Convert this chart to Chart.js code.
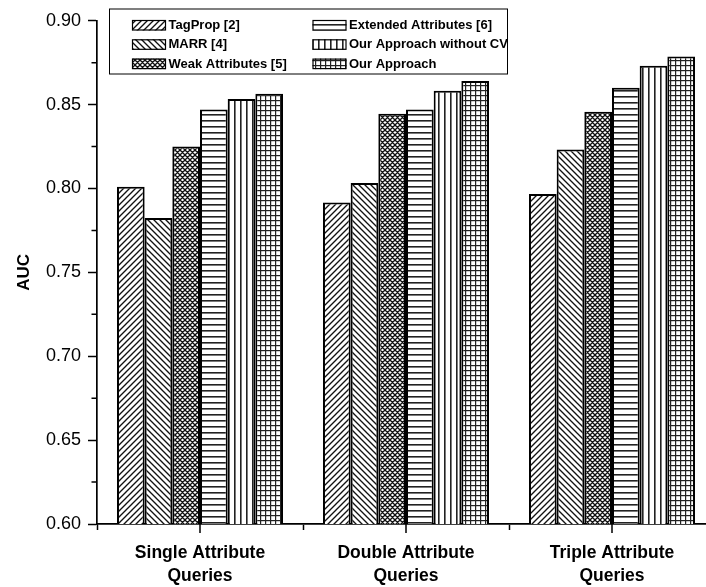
<!DOCTYPE html>
<html>
<head>
<meta charset="utf-8">
<script src="https://cdn.jsdelivr.net/npm/chart.js@4"></script>
<style>
html,body{margin:0;padding:0;background:#fff;overflow:hidden;width:706px;height:587px;}
canvas{display:block;}
</style>
</head>
<body>
<canvas id="c" width="730" height="587"></canvas>
<script>
// ---- data ----
const categories = [["Single Attribute","Queries"],["Double Attribute","Queries"],["Triple Attribute","Queries"]];
const seriesNames = ["TagProp [2]","MARR [4]","Weak Attributes [5]","Extended Attributes [6]","Our Approach without CV","Our Approach"];
const tagProp   = [0.801, 0.7917, 0.7967];
const marr      = [0.7824, 0.8033, 0.8232];
const weakAttr  = [0.825, 0.8446, 0.8458];
const extAttr   = [0.847, 0.847, 0.860];
const ourNoCV   = [0.8534, 0.8582, 0.8732];
const ourApp    = [0.8564, 0.864, 0.8786];
const yTicks = [0.60,0.65,0.70,0.75,0.80,0.85,0.90];
const yMinorTicks = [0.625,0.675,0.725,0.775,0.825,0.875];

// ---- patterns ----
function makePattern(kind){
  const s = kind==='cross' || kind==='grid' ? 5 : 6;
  const c = document.createElement('canvas');
  c.width = s; c.height = s;
  const g = c.getContext('2d');
  g.fillStyle='#fff'; g.fillRect(0,0,s,s);
  g.strokeStyle='#111'; g.lineWidth=1.35;
  g.beginPath();
  if(kind==='fwd'||kind==='cross'){
    g.moveTo(-1,s+1); g.lineTo(s+1,-1);
    g.moveTo(-1,1); g.lineTo(1,-1);
    g.moveTo(s-1,s+1); g.lineTo(s+1,s-1);
  }
  if(kind==='back'||kind==='cross'){
    g.moveTo(-1,-1); g.lineTo(s+1,s+1);
    g.moveTo(s-1,-1); g.lineTo(s+1,1);
    g.moveTo(-1,s-1); g.lineTo(1,s+1);
  }
  g.stroke();
  if(kind==='horiz'||kind==='grid'){
    g.fillStyle='#222'; g.fillRect(0,0,s,kind==='grid'?1.2:1.6);
  }
  if(kind==='vert'||kind==='grid'){
    g.fillStyle='#222'; g.fillRect(0,0,kind==='grid'?1.2:1.6,s);
  }
  return g.createPattern(c,'repeat');
}
const kinds = ['fwd','back','cross','horiz','vert','grid'];
const patterns = kinds.map(k=>makePattern(k));
const seriesValues = [tagProp, marr, weakAttr, extAttr, ourNoCV, ourApp];

const FONT = "'Liberation Sans', Arial, sans-serif";

const extraAxisPlugin = {
  id:'extraAxis',
  afterDraw(chart){
    const ctx = chart.ctx;
    const y = chart.scales.y, x = chart.scales.x;
    ctx.save();
    ctx.strokeStyle='#000'; ctx.lineWidth=1.5;
    ctx.beginPath();
    yMinorTicks.forEach(v=>{
      const py = y.getPixelForValue(v);
      ctx.moveTo(x.left-5.5, py); ctx.lineTo(x.left, py);
    });
    categories.forEach((c,i)=>{
      const px = x.getPixelForValue(i);
      ctx.moveTo(px, y.bottom); ctx.lineTo(px, y.bottom+9);
    });
    ctx.stroke();
    // legend
    const bx=109, by=8.5, bw=398, bh=65;
    ctx.lineWidth=1; ctx.strokeStyle='#000';
    ctx.fillStyle='#fff';
    ctx.fillRect(bx,by,bw,bh);
    ctx.strokeRect(bx+0.5,by+0.5,bw,bh);
    ctx.font = "bold 13px " + FONT;
    ctx.textBaseline='middle'; ctx.textAlign='left';
    chart.data.datasets.forEach((ds,i)=>{
      const col = Math.floor(i/3), row = i%3;
      const sx = col===0?132:312.5;
      const sy = 20 + row*19.3;
      ctx.fillStyle = ds.backgroundColor;
      ctx.fillRect(sx,sy,34,10.5);
      ctx.strokeStyle='#000'; ctx.lineWidth=1.2;
      ctx.strokeRect(sx+0.5,sy+0.5,33,9.5);
      ctx.fillStyle='#000';
      ctx.fillText(ds.label, sx+36.5, sy+5.5);
    });
    ctx.restore();
  }
};

new Chart(document.getElementById('c'), {
  type:'bar',
  data:{
    labels: categories,
    datasets: seriesNames.map((n,i)=>({
      label:n,
      data: seriesValues[i],
      backgroundColor: patterns[i],
      borderColor:'#000',
      borderWidth:2,
      categoryPercentage:0.806,
      barPercentage:1.0
    }))
  },
  options:{
    responsive:false,
    devicePixelRatio:1,
    animation:false,
    layout:{padding:{top:20.7,right:15,bottom:0,left:0}},
    plugins:{legend:{display:false},tooltip:{enabled:false}},
    scales:{
      x:{
        type:'category',
        offset:true,
        grid:{display:true,offset:true,drawOnChartArea:false,drawTicks:true,tickLength:6,tickColor:'#000',tickWidth:1.5},
        border:{display:true,color:'#000',width:1.7},
        ticks:{color:'#000',font:{family:FONT,size:17.5,weight:'bold',lineHeight:1.35},padding:11,maxRotation:0,autoSkip:false},
        afterFit(s){s.height=63;}
      },
      y:{
        min:0.6,max:0.9,
        afterBuildTicks(s){s.ticks = yTicks.map(v=>({value:v}));},
        grid:{display:true,drawOnChartArea:false,drawTicks:true,tickLength:9,tickColor:'#000',tickWidth:1.5},
        border:{display:true,color:'#000',width:1.7},
        ticks:{color:'#000',font:{family:FONT,size:18},padding:7,callback:(v)=>Number(v).toFixed(2)},
        title:{display:true,text:'AUC',color:'#000',font:{family:FONT,size:17,weight:'bold',lineHeight:1.2},padding:{top:14,bottom:0}},
        afterFit(s){s.width=97;}
      }
    }
  },
  plugins:[extraAxisPlugin]
});
</script>
</body>
</html>
